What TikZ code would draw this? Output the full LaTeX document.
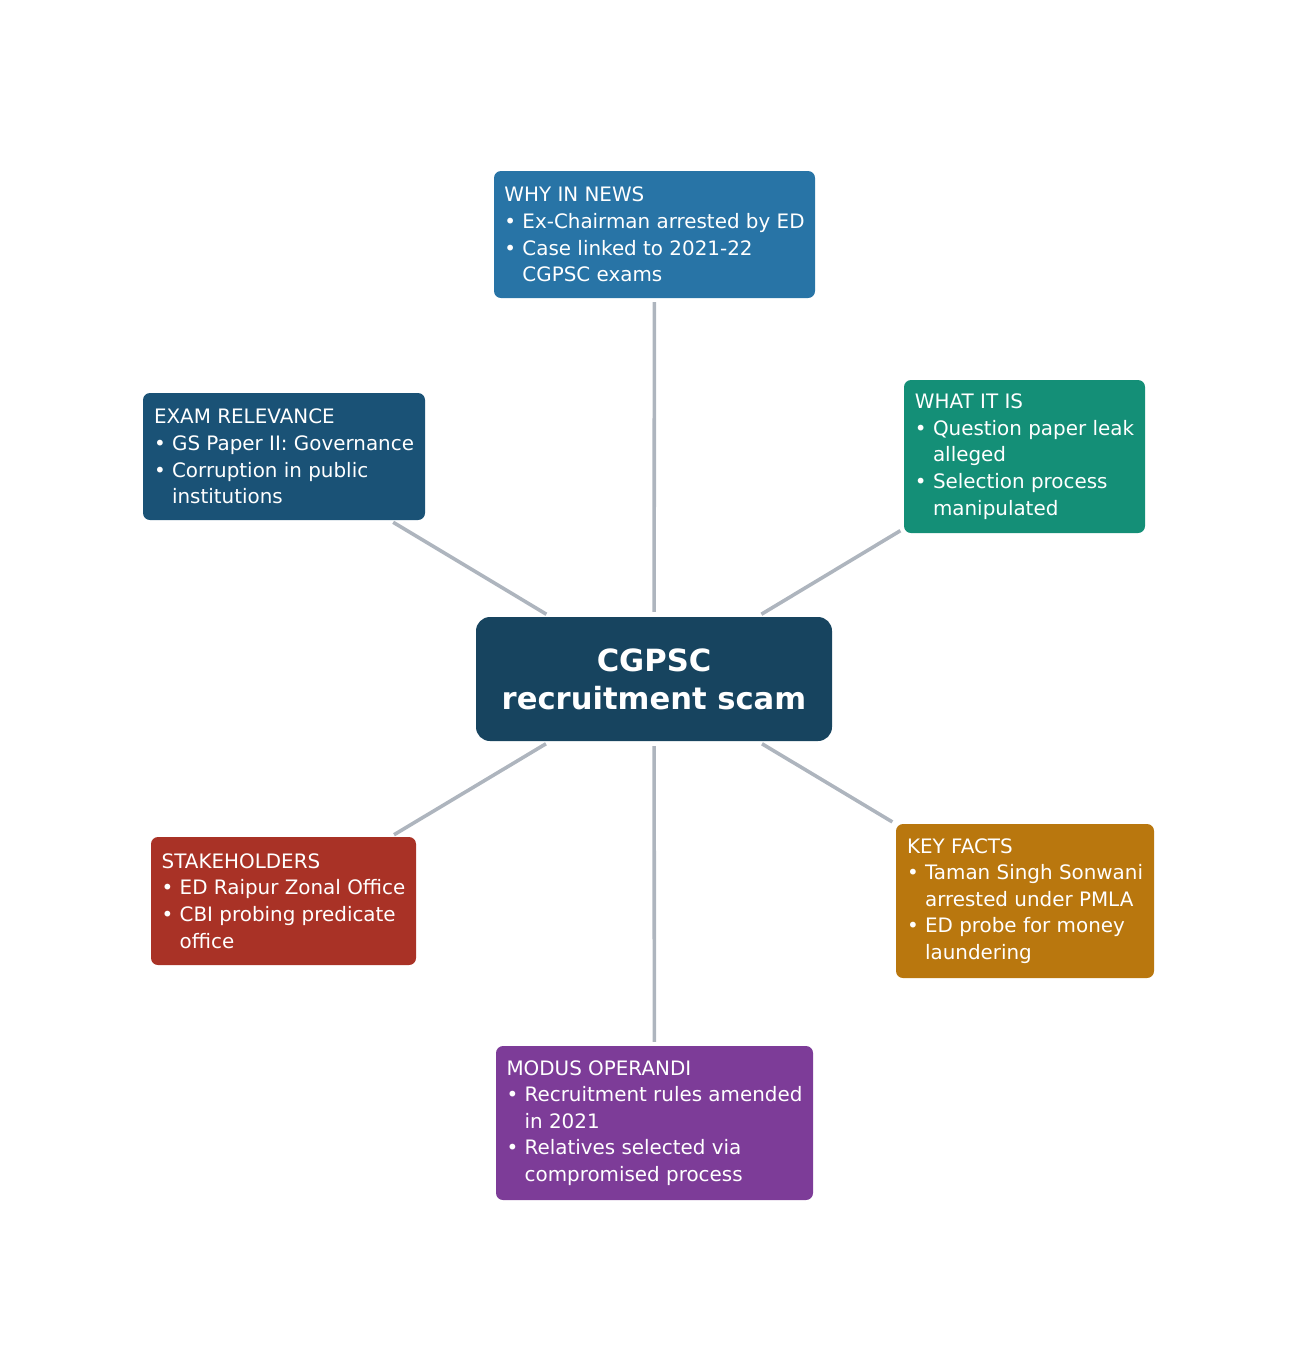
\documentclass[tikz,border=0pt]{standalone}
\usepackage{fontspec}
\setmainfont{DejaVu Sans}
\definecolor{cwhy}{HTML}{2874A6}
\definecolor{cexam}{HTML}{1A5276}
\definecolor{cwhat}{HTML}{148F77}
\definecolor{ckey}{HTML}{B9770E}
\definecolor{cmod}{HTML}{7D3C98}
\definecolor{cstk}{HTML}{A93226}
\definecolor{ccen}{HTML}{17445F}
\definecolor{cline}{HTML}{AEB5BE}
\newcommand\hg{\phantom{• }}
\begin{document}
\begin{tikzpicture}[x=1pt,y=-1pt,
  infobox/.style={rectangle, rounded corners=7pt, inner sep=0pt, text=white,
    align=left, font=\fontsize{19.9}{26.6}\selectfont},
  centerbox/.style={rectangle, rounded corners=14pt, inner sep=0pt, fill=ccen, text=white,
    align=center, font=\fontsize{30.6}{37.8}\selectfont\bfseries},
  link/.style={draw=cline, line width=3.6pt, shorten <=5pt, shorten >=4pt}]
\useasboundingbox (0,0) rectangle (1308,1358);

\node[centerbox, minimum width=356pt, minimum height=124pt] (c) at (654,679) {CGPSC\\recruitment scam};

\node[infobox, fill=cwhy, minimum width=321pt, minimum height=127pt] (why) at (654.5,234.5)
  {WHY IN NEWS\\• Ex-Chairman arrested by ED\\• Case linked to 2021-22\\\hg CGPSC exams};
\node[infobox, fill=cexam, minimum width=282pt, minimum height=127pt] (exam) at (284,456.5)
  {EXAM RELEVANCE\\• GS Paper II: Governance\\• Corruption in public\\\hg institutions};
\node[infobox, fill=cwhat, minimum width=241pt, minimum height=153pt] (what) at (1024.5,456.5)
  {WHAT IT IS\\• Question paper leak\\\hg alleged\\• Selection process\\\hg manipulated};
\node[infobox, fill=cstk, minimum width=265pt, minimum height=128pt] (stake) at (283.5,901)
  {STAKEHOLDERS\\• ED Raipur Zonal Office\\• CBI probing predicate\\\hg office};
\node[infobox, fill=ckey, minimum width=258pt, minimum height=154pt] (key) at (1025,901)
  {KEY FACTS\\• Taman Singh Sonwani\\\hg arrested under PMLA\\• ED probe for money\\\hg laundering};
\node[infobox, fill=cmod, minimum width=317pt, minimum height=154pt] (mod) at (654.5,1123)
  {MODUS OPERANDI\\• Recruitment rules amended\\\hg in 2021\\• Relatives selected via\\\hg compromised process};

\foreach \t in {why,exam,what,stake,key,mod}
  \draw[link] (c) -- (\t);
\end{tikzpicture}
\end{document}
